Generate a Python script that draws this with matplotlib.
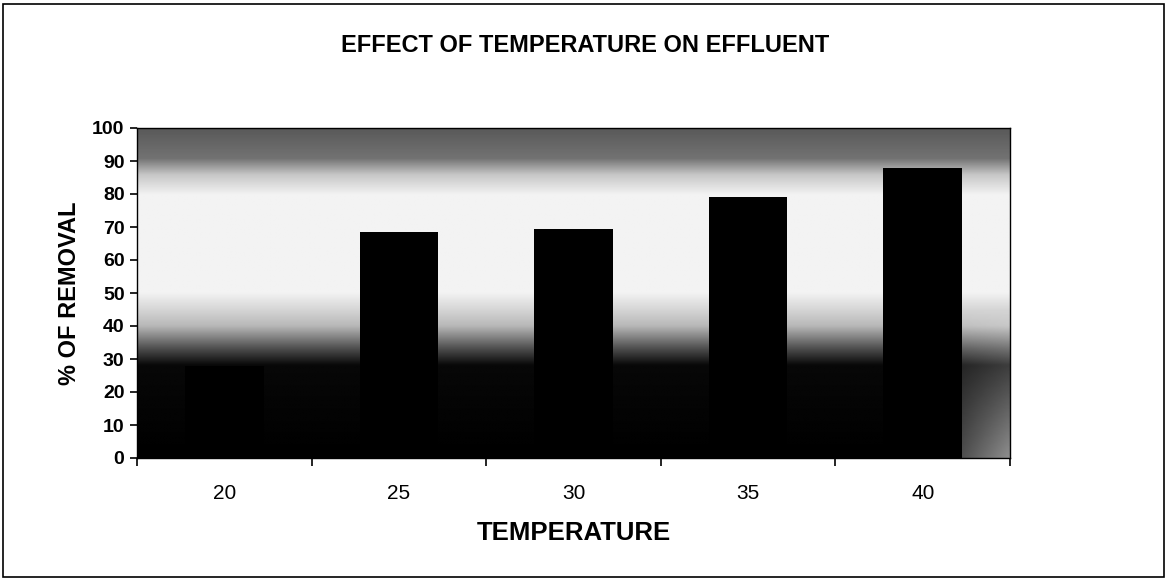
import numpy as np
import matplotlib
matplotlib.use("Agg")
import matplotlib.pyplot as plt
from matplotlib.patches import Rectangle

categories = ["20", "25", "30", "35", "40"]
removal = [28, 68.5, 69.5, 79, 88]
yticks = [0, 10, 20, 30, 40, 50, 60, 70, 80, 90, 100]

plt.rcParams['font.family'] = ['Liberation Sans', 'DejaVu Sans']

fig = plt.figure(figsize=(11.69, 5.80), dpi=100)
ax = fig.add_axes([137/1169, 1 - 458/580, (1010-137)/1169, (458-128)/580])

# gradient background (fill effect of the plot area)
ny, nx = 200, 200
yy = np.linspace(0, 100, ny)[:, None]
xx = np.linspace(0, 1, nx)[None, :]
def prof(y):
    return np.interp(y, [0, 28, 33, 40, 50, 80, 86, 91, 100],
                        [0.0, 0.03, 0.30, 0.72, 0.95, 0.95, 0.78, 0.45, 0.35])
bg = prof(yy) * np.ones_like(xx)
corner = np.clip((xx - 0.88) / 0.12, 0, 1) * np.clip((45 - yy) / 45, 0, 1)
bg = np.clip(bg + corner * 0.55, 0, 1)
ax.imshow(bg, cmap='gray', vmin=0, vmax=1, origin='lower', aspect='auto',
          extent=[-0.5, 4.5, 0, 100], zorder=0, interpolation='bilinear')

x = np.arange(len(categories))
ax.bar(x, removal, width=0.45, color='black', zorder=2)

ax.set_xlim(-0.5, 4.5)
ax.set_ylim(0, 100)
ax.set_yticks(yticks)
ax.set_yticklabels([str(t) for t in yticks], fontsize=14, fontweight='bold')
ax.set_xticks(np.arange(-0.5, 5, 1.0), minor=False)
ax.set_xticklabels([])
ax.set_xticks(x, minor=True)
ax.set_xticklabels(categories, minor=True, fontsize=15)
ax.tick_params(axis='x', which='minor', length=0, pad=19)
ax.tick_params(axis='x', which='major', length=6, direction='out', width=1.2)
ax.tick_params(axis='y', length=5, direction='out', width=1.2, pad=4)
for s in ax.spines.values():
    s.set_linewidth(1.0)
    s.set_color('black')

ax.set_xlabel("TEMPERATURE", fontsize=18.5, fontweight='bold', labelpad=13)
ax.set_ylabel("% OF REMOVAL", fontsize=17, fontweight='bold', labelpad=8)

fig.text(585/1169, 1 - 45/580, "EFFECT OF TEMPERATURE ON EFFLUENT",
         ha='center', va='center', fontsize=17, fontweight='bold')

fig.patches.append(Rectangle((3/1169, 3/580), 1161/1169, 573/580,
                             transform=fig.transFigure, fill=False,
                             edgecolor='black', linewidth=1.2))

fig.savefig("out.png", dpi=100, facecolor='white')
